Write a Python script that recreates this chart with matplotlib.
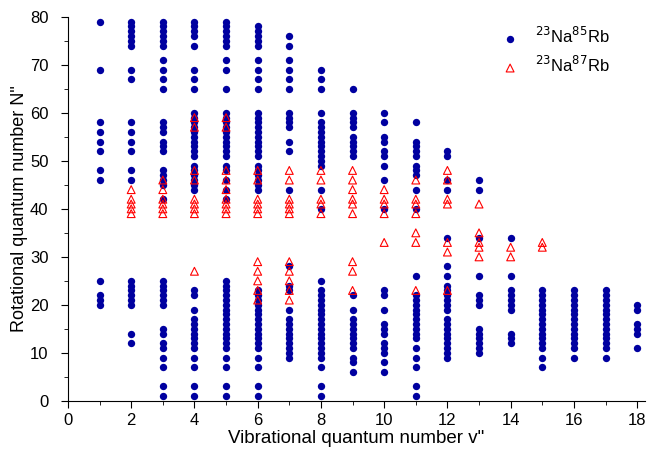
import matplotlib
matplotlib.use("Agg")
import matplotlib.pyplot as plt
from matplotlib.ticker import MultipleLocator

plt.rcParams['font.family'] = ['Liberation Sans', 'DejaVu Sans']

# rotational levels N" observed for each vibrational level v", 23Na85Rb
n85_v1 = [79, 69, 58, 56, 54, 52, 48, 46, 25, 22, 21, 20]
n85_v2 = [79, 78, 77, 76, 75, 74, 69, 67, 58, 56, 54, 52, 48, 46,
          25, 24, 23, 22, 21, 20, 14, 12]
n85_v3 = [79, 78, 77, 76, 75, 74, 71, 69, 67, 65, 58, 57, 56, 54, 53, 52,
          48, 47, 46, 45, 42, 25, 24, 23, 22, 21, 20, 15, 14, 12, 11, 9, 7, 3, 1]
n85_v4 = [79, 78, 77, 76, 74, 69, 67, 65, 60, 59, 58, 57, 56, 55, 54, 53, 52, 51,
          49, 48, 47, 46, 45, 44, 23, 22, 19, 17, 16, 15, 14, 13, 12, 11, 9, 7, 3, 1]
n85_v5 = [79, 78, 77, 76, 75, 74, 71, 69, 65, 60, 59, 58, 57, 56, 55, 54, 53, 52, 51,
          49, 48, 46, 44, 42, 25, 24, 23, 22, 21, 20, 19, 18, 17, 16, 15, 14, 13, 12, 11,
          9, 7, 3, 1]
n85_v6 = [78, 77, 76, 75, 74, 71, 69, 67, 65, 60, 59, 58, 57, 56, 55, 54, 53, 52, 51,
          49, 48, 47, 46, 45, 44, 23, 22, 21, 20, 19, 18, 17, 16, 15, 14, 13, 12, 11,
          9, 7, 3, 1]
n85_v7 = [76, 74, 71, 69, 67, 65, 60, 59, 58, 57, 54, 52, 44, 28, 24, 23, 19,
          17, 16, 15, 14, 13, 12, 11, 10, 9]
n85_v8 = [69, 67, 65, 60, 58, 57, 56, 55, 54, 53, 52, 51, 50, 49, 44, 40, 25,
          23, 22, 21, 20, 19, 18, 17, 16, 15, 14, 13, 12, 11, 10, 9, 7, 3, 1]
n85_v9 = [65, 60, 59, 58, 57, 55, 54, 53, 52, 51, 22, 19,
          17, 16, 15, 14, 13, 12, 11, 9, 8, 6]
n85_v10 = [60, 58, 55, 54, 52, 51, 49, 46, 40, 23, 22, 19, 16, 15, 14, 12, 11, 10, 8, 6]
n85_v11 = [58, 54, 53, 52, 51, 49, 48, 47, 44, 40, 26, 22, 21, 20, 19, 18, 17, 16, 15,
           14, 13, 11, 9, 7, 3, 1]
n85_v12 = [52, 51, 46, 44, 34, 28, 26, 24, 23, 22, 21, 20, 19, 17, 16, 15, 14, 13,
           12, 11, 10, 9]
n85_v13 = [46, 44, 34, 26, 22, 21, 20, 15, 14, 13, 12, 11, 10]
n85_v14 = [34, 26, 23, 22, 21, 20, 19, 14, 13, 12]
n85_v15 = [23, 22, 21, 20, 19, 18, 17, 16, 15, 14, 13, 12, 11, 9, 7]
n85_v16 = [23, 22, 21, 20, 19, 18, 17, 16, 15, 14, 13, 12, 11, 9]
n85_v17 = [23, 22, 21, 20, 19, 18, 17, 16, 15, 14, 13, 12, 11, 9]
n85_v18 = [20, 19, 16, 15, 14, 11]

# 23Na87Rb
n87_v2 = [44, 42, 41, 40, 39]
n87_v3 = [46, 44, 42, 41, 40, 39]
n87_v4 = [59, 57, 48, 46, 42, 41, 40, 39, 27]
n87_v5 = [59, 57, 48, 46, 44, 42, 41, 40, 39]
n87_v6 = [48, 46, 42, 41, 40, 39, 29, 27, 25, 23, 21]
n87_v7 = [48, 46, 42, 41, 40, 39, 29, 27, 25, 23, 21]
n87_v8 = [48, 46, 42, 41, 39]
n87_v9 = [48, 46, 44, 42, 41, 39, 29, 27, 23]
n87_v10 = [44, 42, 41, 39, 33]
n87_v11 = [46, 42, 41, 39, 35, 33, 23]
n87_v12 = [48, 46, 42, 41, 33, 31, 23]
n87_v13 = [41, 35, 33, 32, 30]
n87_v14 = [32, 30]
n87_v15 = [33, 32]

rb85 = [n85_v1, n85_v2, n85_v3, n85_v4, n85_v5, n85_v6, n85_v7, n85_v8, n85_v9,
        n85_v10, n85_v11, n85_v12, n85_v13, n85_v14, n85_v15, n85_v16, n85_v17, n85_v18]
rb85_v = list(range(1, 19))
rb87 = [n87_v2, n87_v3, n87_v4, n87_v5, n87_v6, n87_v7, n87_v8, n87_v9,
        n87_v10, n87_v11, n87_v12, n87_v13, n87_v14, n87_v15]
rb87_v = list(range(2, 16))


def flatten(vs, cols):
    xs, ys = [], []
    for v, col in zip(vs, cols):
        xs += [v] * len(col)
        ys += col
    return xs, ys


x85, y85 = flatten(rb85_v, rb85)
x87, y87 = flatten(rb87_v, rb87)

fig = plt.figure(figsize=(6.47, 4.54), dpi=100)
ax = fig.add_axes([0.105, 0.117, 0.892, 0.846])

ax.scatter(x85, y85, s=28, marker='o', color='#0000A0', linewidths=0,
           label=r'$^{23}$Na$^{85}$Rb', zorder=2)
ax.scatter(x87, y87, s=32, marker='^', facecolors='none', edgecolors='#FF0000',
           linewidths=0.8, label=r'$^{23}$Na$^{87}$Rb', zorder=3)

ax.set_xlim(0, 18.25)
ax.set_ylim(0, 80)
ax.xaxis.set_major_locator(MultipleLocator(2))
ax.xaxis.set_minor_locator(MultipleLocator(1))
ax.yaxis.set_major_locator(MultipleLocator(10))
ax.yaxis.set_minor_locator(MultipleLocator(5))
ax.tick_params(which='both', direction='out', labelsize=12)
ax.tick_params(which='major', length=5)
ax.tick_params(which='minor', length=3)
ax.tick_params(axis='y', pad=9)
ax.spines['top'].set_visible(False)
ax.spines['right'].set_visible(False)

ax.set_xlabel('Vibrational quantum number v"', fontsize=13.5, labelpad=2)
ax.set_ylabel('Rotational quantum number N"', fontsize=13, labelpad=1)

ax.legend(loc='upper right', bbox_to_anchor=(0.965, 1.015), frameon=False,
          fontsize=12, handletextpad=0.5, labelspacing=0.55, scatterpoints=1)

fig.savefig('out.png', dpi=100)
